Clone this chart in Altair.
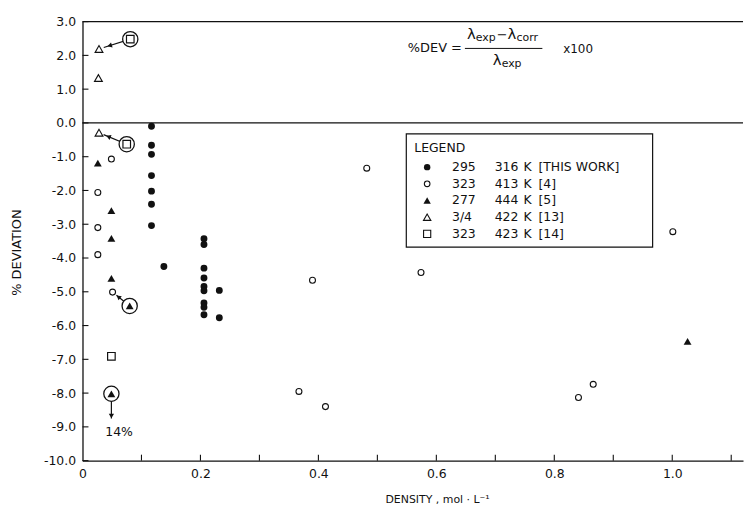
import math
import altair as alt
import pandas as pd

# ---------------- data ----------------
# [THIS WORK] 295-316 K  (filled circles)
tw_density = [0.117, 0.117, 0.117, 0.117, 0.117, 0.117, 0.117, 0.138,
              0.206, 0.206, 0.206, 0.206, 0.206, 0.206, 0.206, 0.206, 0.206,
              0.232, 0.232]
tw_dev = [-0.10, -0.66, -0.93, -1.56, -2.02, -2.41, -3.04, -4.25,
          -3.43, -3.60, -4.30, -4.59, -4.84, -4.97, -5.33, -5.46, -5.68,
          -4.96, -5.77]

# [4] 323-413 K  (open circles)
r4_density = [0.049, 0.026, 0.026, 0.026, 0.051, 0.367, 0.390, 0.412,
              0.482, 0.574, 0.841, 0.866, 1.001]
r4_dev = [-1.07, -2.06, -3.10, -3.90, -5.01, -7.95, -4.66, -8.40,
          -1.34, -4.43, -8.13, -7.74, -3.22]

# [5] 277-444 K  (filled triangles)
r5_density = [0.026, 0.049, 0.049, 0.049, 0.080, 0.049, 1.026]
r5_dev = [-1.19, -2.60, -3.42, -4.60, -5.42, -8.02, -6.47]

# [13] 314-422 K  (open triangles)
r13_density = [0.028, 0.027, 0.028]
r13_dev = [2.19, 1.33, -0.29]

# [14] 323-423 K  (open squares)
r14_density = [0.081, 0.075, 0.049]
r14_dev = [2.48, -0.63, -6.91]

# circled points (series, index) and arrows (from circled point to related point)
circled = [("r14", 0), ("r14", 1), ("r5", 4), ("r5", 5)]
arrow_pairs = [(("r14", 0), ("r13", 0)), (("r14", 1), ("r13", 2)), (("r5", 4), ("r4", 4))]
down_arrow_from = ("r5", 5)
down_arrow_tip_dev = -8.75
note_text = "14%"
note_density, note_dev = 0.062, -9.15

x_label_values = [0, 0.2, 0.4, 0.6, 0.8, 1.0]
x_tick_values = [0.1, 0.2, 0.3, 0.4, 0.5, 0.6, 0.7, 0.8, 0.9, 1.0, 1.1]
y_tick_values = [3, 2, 1, 0, -1, -2, -3, -4, -5, -6, -7, -8, -9, -10]

legend_t1 = ["295", "323", "277", "3/4", "323"]
legend_t2 = ["316", "413", "444", "422", "423"]
legend_t4 = ["[THIS WORK]", "[4]", "[5]", "[13]", "[14]"]

# ---------------- layout ----------------
X_MAX = 1.12
Y_MIN, Y_MAX = -10, 3
W, H = 665, 442
FONT = "DejaVu Sans"
INK = "#111111"

series = {
    "tw": (tw_density, tw_dev),
    "r4": (r4_density, r4_dev),
    "r5": (r5_density, r5_dev),
    "r13": (r13_density, r13_dev),
    "r14": (r14_density, r14_dev),
}


def pt(ref):
    s, i = ref
    return series[s][0][i], series[s][1][i]


def px(x):
    return x / X_MAX * W


def py(y):
    return (Y_MAX - y) / (Y_MAX - Y_MIN) * H


def dx_(p):
    return p / W * X_MAX


def dy_(p):
    return Y_MAX - p / H * (Y_MAX - Y_MIN)


line_rows, head_rows = [], []


def add_arrow(s, t, head_frac, end_gap):
    sx, sy, tx, ty = px(s[0]), py(s[1]), px(t[0]), py(t[1])
    ddx, ddy = tx - sx, ty - sy
    L = math.hypot(ddx, ddy)
    ex, ey = tx - ddx / L * end_gap, ty - ddy / L * end_gap
    line_rows.append(dict(x=s[0], y=s[1], x2=dx_(ex), y2=dy_(ey)))
    hx, hy = sx + ddx * head_frac, sy + ddy * head_frac
    ang = math.degrees(math.atan2(ddx, -ddy)) % 360
    head_rows.append(dict(x=dx_(hx), y=dy_(hy), ang=ang))


for a, b in arrow_pairs:
    add_arrow(pt(a), pt(b), 0.66, 5)
s0 = pt(down_arrow_from)
add_arrow(s0, (s0[0], down_arrow_tip_dev), 0.9, 0)

xs = alt.Scale(domain=[0, X_MAX], nice=False, zero=False)
ys = alt.Scale(domain=[Y_MIN, Y_MAX], nice=False, zero=False)

x_axis = alt.Axis(values=x_label_values,
                  labelExpr="datum.value == 0 ? '0' : format(datum.value, '.1f')",
                  ticks=False, grid=False, domainColor=INK, domainWidth=1.3,
                  labelFont=FONT, labelFontSize=12.5, labelColor=INK, labelPadding=7,
                  labelFlush=False,
                  title="DENSITY , mol · L⁻¹", titleFont=FONT, titleFontSize=11,
                  titleFontWeight="normal", titleColor=INK, titleX=357, titleY=33)
y_axis = alt.Axis(values=y_tick_values,
                  labelExpr="(datum.value < 0 ? '-' : '') + format(abs(datum.value), '.1f')",
                  ticks=False, grid=False, domainColor=INK, domainWidth=1.3,
                  labelFont=FONT, labelFontSize=12.5, labelColor=INK, labelPadding=7,
                  labelFlush=False,
                  title="% DEVIATION", titleFont=FONT, titleFontSize=13,
                  titleFontWeight="normal", titleColor=INK, titleAngle=270,
                  titleX=-66, titleY=232, titleBaseline="middle", titleAlign="center")


def X(f="x"):
    return alt.X(f"{f}:Q", scale=xs, axis=x_axis)


def Y(f="y"):
    return alt.Y(f"{f}:Q", scale=ys, axis=y_axis)


def df(s):
    return pd.DataFrame({"x": series[s][0], "y": series[s][1]})


layers = []

# top border and zero line
layers.append(alt.Chart(pd.DataFrame({"y": [Y_MAX, 0]})).mark_rule(
    color=INK, strokeWidth=1.3).encode(y=Y()))

# inward ticks
layers.append(alt.Chart(pd.DataFrame({"y": y_tick_values})).mark_rule(
    color=INK, strokeWidth=1.1).encode(y=Y(), x=alt.value(0), x2=alt.value(6)))
layers.append(alt.Chart(pd.DataFrame({"x": x_tick_values})).mark_rule(
    color=INK, strokeWidth=1.1).encode(x=X(), y=alt.value(H - 6), y2=alt.value(H)))

# arrows
layers.append(alt.Chart(pd.DataFrame(line_rows)).mark_rule(color=INK, strokeWidth=1.2).encode(
    x=X(), y=Y(), x2="x2:Q", y2="y2:Q"))
layers.append(alt.Chart(pd.DataFrame(head_rows)).mark_point(
    shape="triangle-up", filled=True, color=INK, opacity=1, size=28).encode(
    x=X(), y=Y(), angle=alt.Angle("ang:Q", scale=None)))

# circled markers
circ_df = pd.DataFrame([dict(x=pt(c)[0], y=pt(c)[1]) for c in circled])
layers.append(alt.Chart(circ_df).mark_point(
    shape="circle", filled=True, fill="white", stroke=INK, strokeWidth=1.3,
    opacity=1, size=235).encode(x=X(), y=Y()))

# data series
layers.append(alt.Chart(df("r4")).mark_point(
    shape="circle", filled=True, fill="white", stroke=INK, strokeWidth=1.1,
    opacity=1, size=36).encode(x=X(), y=Y()))
layers.append(alt.Chart(df("r13")).mark_point(
    shape="triangle-up", filled=True, fill="white", stroke=INK, strokeWidth=1.1,
    opacity=1, size=62).encode(x=X(), y=Y()))
layers.append(alt.Chart(df("r14")).mark_point(
    shape="square", filled=True, fill="white", stroke=INK, strokeWidth=1.2,
    opacity=1, size=58).encode(x=X(), y=Y()))
layers.append(alt.Chart(df("tw")).mark_point(
    shape="circle", filled=True, color=INK, opacity=1, size=48).encode(x=X(), y=Y()))
layers.append(alt.Chart(df("r5")).mark_point(
    shape="triangle-up", filled=True, color=INK, opacity=1, size=62).encode(x=X(), y=Y()))

# "14%" note
layers.append(alt.Chart(pd.DataFrame({"x": [note_density], "y": [note_dev], "t": [note_text]}))
              .mark_text(font=FONT, fontSize=12.5, color=INK).encode(x=X(), y=Y(), text="t:N"))

one = pd.DataFrame({"a": [0]})


def txt(s, x, y, size=12, align="left", font=FONT):
    return alt.Chart(one).mark_text(text=s, font=font, fontSize=size, align=align,
                                    baseline="middle", color=INK).encode(
        x=alt.value(x), y=alt.value(y))


# formula  %DEV = (λexp - λcorr)/λexp x100
layers += [
    txt("%DEV =", 382, 27, 13, "right"),
    txt("λ", 387, 13, 15), txt("exp", 396, 17, 11),
    txt("−", 417, 14, 13), txt("λ", 428, 13, 15), txt("corr", 437, 17, 11),
    txt("λ", 413, 39, 15), txt("exp", 422, 43, 11),
    txt("x100", 484, 28, 12),
]
layers.append(alt.Chart(one).mark_rule(color=INK, strokeWidth=1).encode(
    x=alt.value(385), x2=alt.value(463), y=alt.value(27)))

# legend box
LX0, LX1, LY0, LY1 = 326, 574, 113, 227
layers.append(alt.Chart(one).mark_rect(fill="white", stroke=INK, strokeWidth=1.2).encode(
    x=alt.value(LX0), x2=alt.value(LX1), y=alt.value(LY0), y2=alt.value(LY1)))
layers.append(txt("LEGEND", 334, 127, 12.5))
row_y = [146.5, 163.3, 180.1, 196.9, 213.7]
sym_specs = [
    dict(shape="circle", filled=True, color=INK, size=42),
    dict(shape="circle", filled=True, fill="white", stroke=INK, strokeWidth=1.1, size=32),
    dict(shape="triangle-up", filled=True, color=INK, size=55),
    dict(shape="triangle-up", filled=True, fill="white", stroke=INK, strokeWidth=1.1, size=55),
    dict(shape="square", filled=True, fill="white", stroke=INK, strokeWidth=1.1, size=52),
]
for i, ry in enumerate(row_y):
    layers.append(alt.Chart(one).mark_point(opacity=1, **sym_specs[i]).encode(
        x=alt.value(347), y=alt.value(ry)))
    layers.append(txt(legend_t1[i], 372, ry, 12.5))
    layers.append(txt(legend_t2[i], 415, ry, 12.5))
    layers.append(txt("K", 444, ry, 12.5))
    layers.append(txt(legend_t4[i], 459, ry, 12.5))

chart = alt.layer(*layers).properties(
    width=W, height=H, background="white",
    autosize=alt.AutoSizeParams(type="none"),
    padding={"left": 75, "top": 12, "right": 2, "bottom": 49},
).configure_view(stroke=None)

chart.save("out.html", embed_options={"renderer": "svg", "actions": False})
